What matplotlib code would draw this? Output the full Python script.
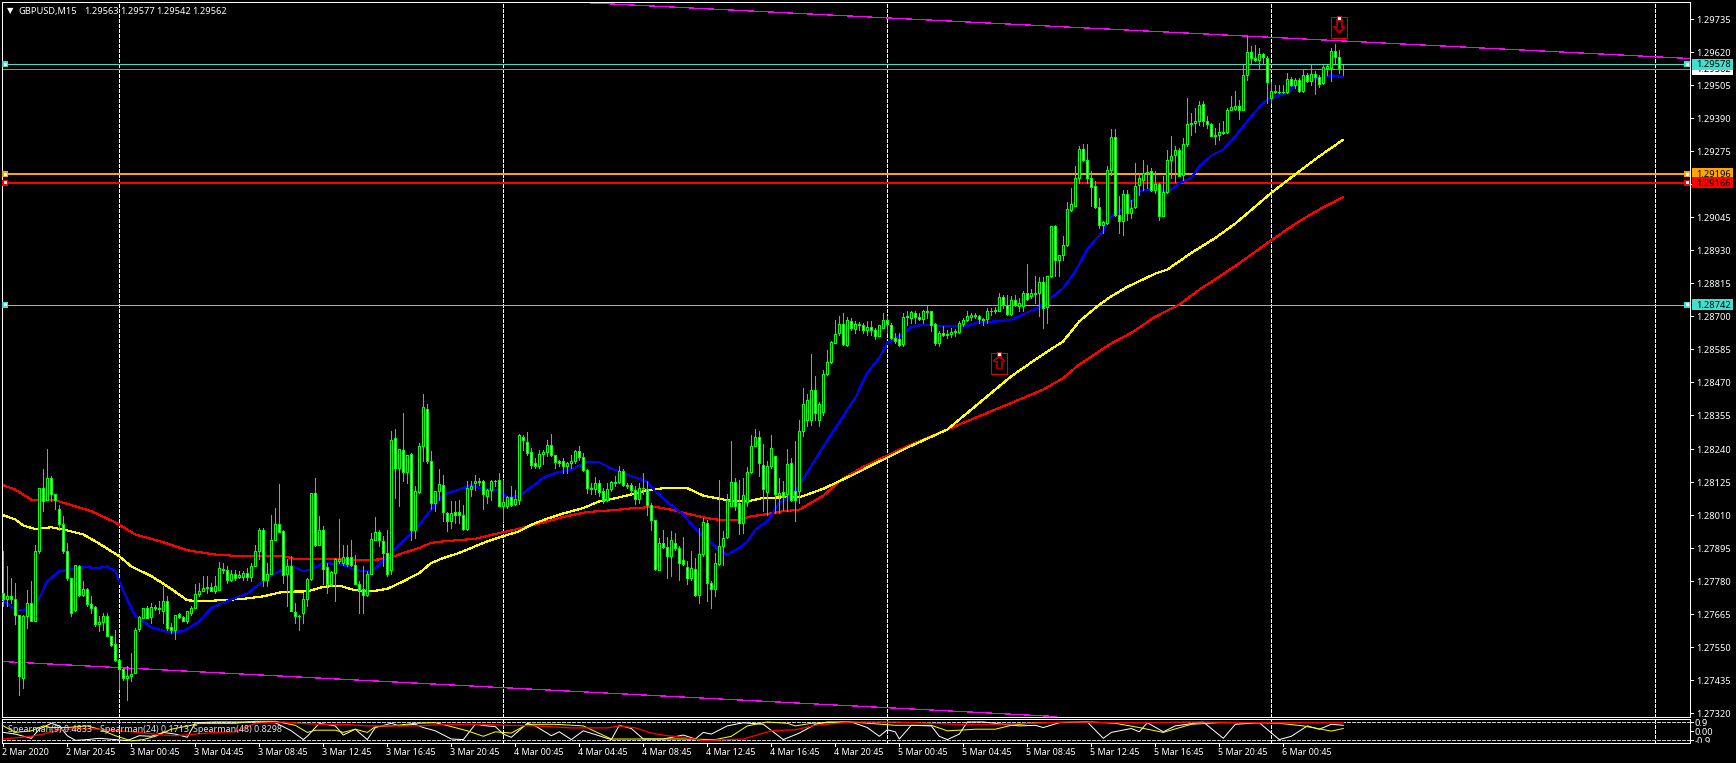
import matplotlib
matplotlib.use("Agg")
import matplotlib.pyplot as plt
from matplotlib.patches import Rectangle, Polygon
from matplotlib.transforms import Affine2D, Bbox

# ---- price data, in points above 1.27000 (1 point = 0.00001) ----
BASE = 1.27
POINT = 1e-5
opens = [740,717,728,719,664,444,661,703,641,885,
1105,1064,1140,1082,1032,981,885,792,680,835,
734,754,702,691,630,638,661,589,562,506,
476,444,450,462,615,653,688,655,691,688,
676,711,622,612,667,657,641,670,688,735,
747,757,761,747,751,823,820,785,805,794,
794,809,794,835,885,960,784,804,923,980,
955,804,835,674,661,670,720,788,1088,905,
959,830,769,809,851,844,863,865,838,772,
754,734,804,925,953,921,879,819,1279,1174,
1238,1159,1223,958,1090,1252,1380,1198,1053,1093,
1115,1018,991,1020,1020,1010,962,1101,1122,1127,
1129,1076,1097,1130,1134,1041,1041,1074,1050,1062,
1282,1265,1230,1192,1180,1222,1229,1254,1220,1199,
1199,1180,1192,1199,1233,1213,1166,1106,1101,1122,
1094,1063,1101,1126,1125,1164,1115,1115,1097,1067,
1105,1101,1046,992,820,914,900,867,914,897,
853,830,791,823,732,875,983,773,754,841,
902,933,1041,1126,1053,983,1056,1160,1250,1282,
1184,1090,1180,1215,1079,1090,1082,1192,1093,1093,
1302,1340,1340,1447,1340,1370,1501,1543,1610,1643,
1675,1601,1686,1659,1675,1672,1653,1665,1654,1632,
1662,1689,1673,1625,1621,1604,1698,1697,1713,1699,
1691,1716,1720,1674,1609,1644,1637,1639,1647,1646,
1676,1689,1698,1706,1703,1692,1692,1719,1720,1721,
1770,1741,1711,1759,1739,1739,1783,1771,1778,1783,
1821,1734,1841,2017,1896,1916,1949,2070,2084,2182,
2284,2245,2183,2153,2082,2018,2025,2211,2325,2053,
2032,2127,2061,2081,2157,2177,2200,2206,2140,2160,
2051,2133,2246,2262,2281,2193,2299,2369,2373,2380,
2439,2380,2371,2330,2331,2339,2342,2418,2423,2432,
2418,2541,2621,2601,2592,2614,2600,2460,2481,2483,
2481,2481,2527,2505,2524,2484,2541,2519,2543,2535,
2513,2564,2564,2625,2604,2563]
closes = [717,728,717,664,452,661,703,641,885,1105,
1058,1140,1082,1062,981,885,792,670,836,734,
754,700,687,630,639,661,589,557,506,476,
444,451,458,612,656,688,653,691,689,685,
713,618,610,664,656,641,676,689,737,747,
757,761,747,765,827,819,784,804,793,801,
809,794,835,885,958,784,807,925,980,952,
801,835,676,659,659,720,788,1088,905,959,
823,769,813,856,858,864,839,838,771,751,
734,807,928,953,922,879,804,1273,1174,1240,
1159,1221,958,1093,1252,1386,1198,1053,1093,1119,
1020,991,1016,1010,1010,962,1103,1113,1129,1129,
1082,1099,1130,1128,1043,1056,1074,1047,1067,1290,
1271,1227,1186,1180,1224,1230,1254,1218,1194,1192,
1180,1192,1199,1233,1213,1166,1104,1101,1122,1090,
1062,1101,1126,1123,1163,1115,1113,1097,1067,1105,
1103,1046,992,823,914,900,867,924,896,844,
839,791,827,732,875,985,773,754,844,902,
931,1062,1126,1041,983,1079,1160,1252,1282,1192,
1101,1180,1242,1082,1087,1074,1188,1064,1064,1302,
1395,1410,1447,1366,1395,1502,1543,1612,1640,1675,
1604,1687,1660,1676,1673,1653,1665,1653,1632,1672,
1689,1674,1625,1616,1601,1699,1701,1716,1699,1692,
1720,1720,1672,1608,1644,1637,1641,1647,1652,1679,
1689,1704,1706,1702,1692,1688,1720,1721,1725,1769,
1741,1709,1759,1741,1749,1783,1762,1781,1783,1820,
1731,1842,2017,1896,1915,1951,2073,2092,2183,2284,
2244,2182,2150,2081,2018,2030,2211,2325,2055,2032,
2127,2061,2078,2156,2183,2200,2205,2141,2160,2050,
2134,2246,2260,2281,2191,2301,2372,2375,2382,2437,
2380,2369,2328,2332,2343,2344,2419,2430,2434,2418,
2541,2621,2599,2593,2614,2603,2517,2486,2484,2481,
2483,2527,2505,2524,2484,2541,2521,2543,2535,2511,
2569,2572,2625,2604,2564,2562]
highs = [885,832,792,775,664,664,751,780,908,1105,
1169,1240,1145,1082,1047,1006,914,792,838,838,
780,757,728,693,659,670,670,589,612,508,
479,485,531,618,659,688,693,705,699,711,
763,728,636,664,670,659,676,693,769,775,
798,798,775,798,848,844,832,821,821,815,
815,827,844,908,966,966,844,1012,1035,1120,
960,856,867,705,664,740,792,1088,1140,1006,
972,844,815,861,997,908,908,925,873,780,
832,815,948,1003,960,937,960,1302,1311,1240,
1366,1221,1227,1111,1261,1430,1395,1232,1093,1169,
1151,1020,1058,1058,1064,1047,1128,1128,1151,1140,
1134,1101,1134,1134,1157,1134,1076,1111,1099,1293,
1290,1298,1244,1209,1236,1238,1273,1294,1221,1203,
1209,1194,1221,1238,1252,1227,1169,1122,1143,1134,
1105,1122,1128,1145,1182,1169,1122,1122,1111,1122,
1157,1128,1053,995,931,958,934,954,948,902,
934,850,885,861,966,1000,995,780,879,1134,
954,1082,1267,1139,1134,1139,1178,1290,1310,1302,
1256,1198,1290,1215,1139,1128,1240,1209,1269,1340,
1452,1430,1572,1493,1405,1516,1586,1615,1688,1702,
1713,1699,1696,1684,1681,1679,1684,1684,1661,1673,
1713,1702,1679,1644,1644,1713,1719,1719,1719,1713,
1725,1741,1720,1679,1650,1669,1653,1661,1658,1684,
1696,1719,1713,1713,1707,1696,1731,1731,1734,1783,
1777,1777,1771,1777,1766,1789,1885,1795,1843,1838,
1838,1843,2017,2020,1916,1980,2098,2148,2223,2293,
2302,2299,2206,2171,2113,2032,2223,2354,2354,2119,
2142,2142,2107,2235,2200,2244,2229,2218,2206,2165,
2189,2281,2330,2293,2287,2322,2461,2409,2426,2449,
2449,2397,2374,2357,2374,2380,2426,2467,2484,2455,
2577,2675,2643,2646,2635,2617,2606,2515,2505,2505,
2505,2546,2534,2531,2531,2557,2546,2577,2554,2542,
2574,2577,2635,2647,2629,2577]
lows = [693,693,705,630,386,409,618,641,641,879,
1024,1064,1058,1030,960,879,786,661,676,728,
728,693,670,624,606,612,589,554,502,404,
438,369,433,462,606,653,653,636,682,670,
636,612,601,578,653,641,636,664,688,728,
746,740,746,740,751,809,775,780,786,792,
786,786,780,832,856,763,763,804,923,952,
775,693,676,636,612,636,693,786,902,905,
769,740,763,711,844,838,832,832,769,670,
670,728,804,925,902,832,798,804,1070,1041,
1128,1122,925,931,1088,1198,1192,1030,1024,1064,
989,954,966,983,983,960,960,1076,1099,1116,
1030,1053,1064,1111,1041,991,1035,1043,1047,1050,
1238,1221,1174,1174,1174,1189,1215,1217,1174,1180,
1157,1157,1174,1192,1203,1163,1087,1082,1082,1076,
1053,1058,1093,1113,1122,1111,1105,1082,1050,1053,
1082,1009,960,821,819,896,790,798,890,786,
838,769,786,728,705,867,711,688,728,838,
838,931,1041,1029,943,948,1043,1157,1250,1145,
1024,1012,1174,1018,1018,1029,1024,1058,989,1053,
1285,1320,1325,1340,1320,1360,1499,1540,1609,1638,
1603,1600,1655,1644,1653,1644,1638,1638,1621,1632,
1661,1644,1621,1609,1597,1597,1673,1679,1679,1690,
1679,1696,1650,1603,1597,1632,1626,1630,1632,1644,
1667,1684,1690,1696,1679,1673,1679,1707,1713,1719,
1731,1707,1707,1737,1719,1719,1760,1766,1748,1702,
1661,1679,1838,1841,1843,1899,1945,2067,2084,2165,
2241,2165,2084,2078,2009,1992,2021,2194,2050,1992,
1986,2038,2044,2078,2125,2142,2148,2136,2131,2038,
2050,2131,2183,2168,2189,2177,2295,2333,2342,2368,
2365,2357,2328,2299,2316,2337,2339,2418,2420,2389,
2418,2522,2583,2588,2565,2583,2444,2444,2478,2478,
2478,2478,2502,2496,2481,2481,2516,2507,2476,2499,
2511,2542,2519,2583,2548,2542]

# moving averages, read at (bar index, points)
blue_bars = [0,3,5,8,11,14,20,24,26,28,30,33,37,41,45,49,52,57,61,66,69,72,75,77,80,85,88,92,96,100,104,107,110,114,117,120,124,
126,129,132,135,138,142,146,149,152,156,161,163,166,170,174,177,179,181,184,186,188,191,194,197,199,206,213,216,219,221,224,227,230,234,238,241,244,249,252,255,259,262,265,268,271,273,275,276,279,283,284,288,291,294,297,299,302,305,308,312,315,317,321,323,326,329,332,335]
blue_pts = [711,682,680,693,780,815,829,827,832,815,746,659,620,604,606,641,688,717,737,792,815,835,815,821,844,838,819,813,867,920,977,1030,1082,1099,1116,1101,1097,
1070,1078,1107,1140,1157,1169,1195,1194,1172,1151,1126,1093,1056,1012,948,914,885,873,896,917,960,989,1053,1076,1114,1270,1418,1505,1557,1609,1632,1664,1673,1669,1667,1669,1682,1684,1690,1708,1734,1766,1800,1858,1934,1968,1997,2038,2067,2113,2136,2148,2131,2165,2183,2223,2260,2281,2328,2397,2444,2461,2478,2504,2523,2527,2540,2533]
yellow_bars = [0,3,5,8,12,16,20,24,29,32,37,41,46,50,54,60,65,70,76,80,84,88,92,96,100,104,107,110,114,118,121,124,
129,132,136,140,145,149,153,157,161,165,171,175,179,183,186,190,195,199,205,212,218,226,236,245,252,255,258,265,269,274,277,281,288,291,297,303,308,317,324,329,335]
yellow_pts = [1010,995,974,962,968,957,943,911,867,832,798,763,714,711,714,719,728,744,745,761,765,749,745,754,780,809,844,861,879,902,919,933,
954,977,998,1016,1035,1058,1069,1082,1097,1104,1104,1078,1067,1058,1058,1070,1072,1072,1102,1148,1190,1245,1308,1412,1493,1522,1551,1615,1684,1742,1771,1804,1850,1864,1922,1974,2024,2131,2206,2258,2316]
red_bars = [0,3,7,13,17,22,28,33,40,46,53,60,70,73,80,90,96,100,104,107,110,118,124,
129,134,140,146,152,158,163,167,172,176,180,184,187,191,195,199,205,210,215,226,236,254,260,265,269,274,277,282,288,294,299,306,308,317,324,329,335]
red_pts = [1114,1099,1064,1062,1045,1024,985,943,916,888,873,867,867,858,858,853,858,879,896,914,919,928,948,
963,981,1004,1021,1027,1035,1039,1029,1012,1000,992,995,1006,1014,1024,1029,1078,1138,1178,1250,1308,1412,1447,1487,1534,1580,1607,1644,1700,1742,1794,1858,1876,1966,2032,2073,2116]

# trend lines: two read points each
top_trend_bars = [255.4, 421.7]
top_trend_pts = [2715, 2598]
bottom_trend_bars = [0, 124]
bottom_trend_pts = [501, 411]

# horizontal levels
level_prices = [1.29578, 1.29562, 1.29196, 1.29166, 1.28742]

# price axis
price_ticks = [1.29735,1.29620,1.29505,1.29390,1.29275,1.29160,1.29045,1.28930,1.28815,1.28700,1.28585,
               1.28470,1.28355,1.28240,1.28125,1.28010,1.27895,1.27780,1.27665,1.27550,1.27435,1.27320]
# time axis
time_tick_bars = list(range(0, 321, 16))
time_tick_labels = ["2 Mar 2020","2 Mar 20:45","3 Mar 00:45","3 Mar 04:45","3 Mar 08:45","3 Mar 12:45","3 Mar 16:45","3 Mar 20:45",
                    "4 Mar 00:45","4 Mar 04:45","4 Mar 08:45","4 Mar 12:45","4 Mar 16:45","4 Mar 20:45",
                    "5 Mar 00:45","5 Mar 04:45","5 Mar 08:45","5 Mar 12:45","5 Mar 16:45","5 Mar 20:45","6 Mar 00:45"]
midnight_bars = [29, 125, 221, 317, 413]

# Spearman oscillator
sp_white_bars = [0,3,7,9,12,14,16,18,21,24,28,31,34,37,40,43,46,48,53,58,63,68,72,75,76,79,83,85,88,91,93,97,99,103,105,108,112,115,118,121,123,125,127,131,133,137,139,142,145,152,154,157,160,165,170,173,175,177,181,185,190,195,199,203,206,212,216,219,221,223,224,227,232,234,236,239,241,245,250,254,258,260,264,271,275,277,282,284,286,290,293,300,305,308,314,319,322,326,329,332,335]
sp_white = [-.11,-.28,-.70,.21,.80,.54,-.44,-.90,-.83,-.70,-.83,-.93,-.44,-.50,-.11,-.28,-.60,.86,.93,.93,.93,.86,.05,-.83,-.50,.80,.54,-.375,.21,-.83,.375,.80,.54,.70,.375,.05,-.77,-.83,.70,.54,.47,-.28,-.60,.80,.54,-.44,-.05,-.83,.05,-.83,.60,.28,-.77,-.77,-.375,-.77,-.11,-.28,.54,.86,.70,-.83,-.18,.70,.93,.93,.375,-.50,.15,-.05,-.77,.60,.54,-.50,-.83,-.28,.93,.93,.70,.54,.60,.375,.86,.93,-.70,-.11,.28,-.05,.86,-.05,.54,.93,-.70,.70,.86,-.83,-.50,.54,.21,.70,.60]
sp_yellow_bars = [0,3,7,10,12,16,21,24,28,32,35,38,42,47,49,58,63,68,73,76,78,83,85,88,91,93,97,103,108,112,116,120,123,127,131,138,145,152,158,170,178,182,186,191,196,198,202,212,223,232,236,239,243,248,252,258,272,278,284,290,297,304,313,319,325,332,335]
sp_yellow = [.54,-.11,.05,.54,.375,.375,.54,.21,-.44,-.96,-.83,-.50,.21,.60,.80,.80,1.0,1.0,.60,-.11,.11,.11,-.11,.21,-.11,.47,.54,.80,.86,.47,.05,-.50,-.05,-.18,.70,.70,.54,-.77,-.77,-.77,-.83,-.50,.54,.93,.80,.54,.80,.93,.60,.60,.05,.11,.21,.21,.60,.86,.93,.80,.375,-.11,.70,.86,.86,.80,.54,.02,.28]
sp_red_bars = [0,7,10,14,19,24,29,34,40,43,48,53,58,63,70,74,79,85,91,97,103,112,120,126,133,142,151,154,158,162,166,170,175,185,192,198,203,212,223,238,249,266,283,299,316,335]
sp_red = [-.77,-.50,-.28,.15,.28,.21,.05,-.11,-.375,-.44,-.28,-.11,-.05,.80,.93,.80,.70,.70,.54,.54,.54,.70,.70,.60,.54,.34,.34,.54,.34,-.18,-.44,-.60,-.93,-.77,.05,.15,.60,.93,.93,.70,.70,.93,.86,.93,.86,.86]
sp_levels = [0.9, -0.9]
sp_labels = ["Spearman(9) 0.4833", "Spearman(24) 0.1713", "Spearman(48) 0.8298"]
header_parts = ["GBPUSD,M15", "1.29563", "1.29577", "1.29542", "1.29562"]


def prc(v):
    return [BASE + x * POINT for x in v]

W, H = 1736, 763
PX = 0.72
FONT = "Noto Sans"
FS = 6.45
FS_PRICE = 6.7
TXT = "#ffffff"

fig = plt.figure(figsize=(W / 100, H / 100), dpi=100, facecolor="black")
ax = fig.add_axes([2.0 / W, 1 - 716.5 / H, 1688 / W, 714.5 / H], facecolor="black")
sub = fig.add_axes([2.0 / W, 1 - 743 / H, 1688 / W, 24 / H], facecolor="black")
for a in (ax, sub):
    a.set_xlim((2.0 - 3.3) / 4, (1690.0 - 3.3) / 4)
    for s in a.spines.values():
        s.set_color("white")
        s.set_linewidth(PX)
    a.set_xticks([])
    a.set_yticks([])
ax.set_ylim(BASE + 310 * POINT, BASE + 2794.5 * POINT)
sub.set_ylim(-1.17, 1.23)

DASH = (0, (4, 2))
LINE = dict(antialiased=False, solid_capstyle="butt")
for a in (ax, sub):
    for b in midnight_bars:
        a.axvline(b, color="white", lw=PX, ls=DASH, zorder=1, antialiased=False)

# levels
ax.axhline(level_prices[1], color="#8c8c8c", lw=PX, zorder=2, **LINE)
ax.axhline(level_prices[0], color="#40E0D0", lw=PX, zorder=2, **LINE)
ax.axhline(level_prices[4], color="#40E0D0", lw=PX, zorder=2, **LINE)
ax.axhline(level_prices[2], color="#FFA500", lw=2 * PX, zorder=2, **LINE)
ax.axhline(level_prices[3], color="#FF0000", lw=2 * PX, zorder=2, **LINE)

# trend lines
for tb, tp in ((top_trend_bars, top_trend_pts), (bottom_trend_bars, bottom_trend_pts)):
    ax.axline((tb[0], BASE + tp[0] * POINT), (tb[1], BASE + tp[1] * POINT), color="#FF00FF", lw=0.25 * PX, zorder=2, antialiased=False)

# moving averages
ax.plot(red_bars, prc(red_pts), color="#FF0000", lw=1.1 * PX, zorder=3, **LINE)
ax.plot(yellow_bars, prc(yellow_pts), color="#FFFF00", lw=1.1 * PX, zorder=3, **LINE)
ax.plot(blue_bars, prc(blue_pts), color="#0000FF", lw=1.1 * PX, zorder=3, **LINE)

# candles
bars = list(range(len(opens)))
ax.vlines(bars, prc(lows), prc(highs), color="#00FF00", lw=PX, zorder=4, antialiased=False)
for i in bars:
    up = closes[i] >= opens[i]
    lo = BASE + min(opens[i], closes[i]) * POINT
    hi = BASE + max(opens[i], closes[i]) * POINT
    ax.add_patch(Rectangle((i - 0.25, lo), 0.5, hi - lo, facecolor="black" if up else "white",
                           edgecolor="#00FF00", lw=PX, zorder=5, antialiased=False))

# oscillator
for lv in sp_levels:
    sub.axhline(lv, color="#c8c8c8", lw=PX, ls=DASH, zorder=1, antialiased=False)
sub.plot(sp_white_bars, sp_white, color="white", lw=PX, zorder=3, antialiased=True)
sub.plot(sp_yellow_bars, sp_yellow, color="#FFFF00", lw=PX, zorder=4, antialiased=True)
sub.plot(sp_red_bars, sp_red, color="#FF0000", lw=PX * 1.3, zorder=5, antialiased=True)

# ---- pixel-placed furniture ----
pix = Affine2D().scale(1, -1).translate(0, H)


def bar_x(i):
    return ax.transData.transform((i, BASE))[0]


def price_y(p):
    return H - ax.transData.transform((0, p))[1]


def ptext(x, y, s, **kw):
    opts = dict(family=FONT, fontsize=FS, color=TXT, va="center", ha="left", transform=pix, zorder=20)
    opts.update(kw)
    return fig.text(x, y, s, **opts)


def prect(x0, y0, x1, y1, **kw):
    opts = dict(transform=pix, antialiased=False, lw=0)
    opts.update(kw)
    p = Rectangle((x0, y0), x1 - x0, y1 - y0, **opts)
    fig.add_artist(p)
    return p


# price ticks
for p in price_ticks:
    y = price_y(p)
    prect(1691, y - 0.5, 1694, y + 0.5, facecolor="white", zorder=10)
    ptext(1696, y + 1, f"{p:.5f}", zorder=11, fontsize=FS_PRICE)

# level labels, each stacked above the one before it
for n, (p, bg) in enumerate(((1.29562, "white"), (1.29578, "#40E0D0"), (1.29196, "#FFA500"), (1.29166, "#FF0000"), (1.28742, "#40E0D0"))):
    y = price_y(p)
    prect(1692, y - 5.7, 1733, y + 5.7, facecolor=bg, zorder=12 + n * 0.2)
    ptext(1696, y + 0.7, f"{p:.5f}", color="black", zorder=12.1 + n * 0.2, fontsize=FS_PRICE)

# level handles
for p, c in ((1.29578, "#40E0D0"), (1.29196, "#FFA500"), (1.29166, "#FF0000"), (1.28742, "#40E0D0")):
    y = price_y(p)
    for x in (5.3, 1687.3):
        prect(x - 3, y - 3, x + 3, y + 3, facecolor=c, zorder=15)
        prect(x - 1.5, y - 1.5, x + 1.5, y + 1.5, facecolor="white", zorder=16)

# time ticks
for b, lab in zip(time_tick_bars, time_tick_labels):
    x = bar_x(b)
    prect(x - 0.5, 743, x + 0.5, 746.5, facecolor="white", zorder=10)
    ptext(x - 1, 752.2, lab)

# oscillator scale
clip = Bbox.from_extents(1690, H - 742.5, 1736, H - 716)
for y, s in ((722.7, "0.9"), (731.5, "0.00"), (740.5, "-0.9")):
    prect(1691, y - 0.5, 1694, y + 0.5, facecolor="white", zorder=10)
    t = ptext(1694.5, y + 1, s, zorder=11, fontsize=FS_PRICE)
    t.set_clip_box(clip)
    t.set_clip_on(True)

# oscillator captions
for x, s in zip((7.5, 100, 193), sp_labels):
    ptext(x, 729.3, s, color="#e0e0e0")

# header
ptext(6.5, 10.8, "\u25bc", family="DejaVu Sans", fontsize=6, color="white")
for x, s in zip((18, 84, 120, 156.5, 192.5), header_parts):
    ptext(x, 11.2, s, fontsize=FS_PRICE)


# arrow objects
def arrow_box(x0, y0, x1, y1, pts, hx, hy):
    prect(x0, y0, x1, y1, facecolor="none", edgecolor="#e00000", lw=PX, zorder=15)
    fig.add_artist(Polygon(pts, closed=True, transform=pix, facecolor="none", edgecolor="#a00000", lw=0.5 * PX,
                           zorder=15, antialiased=False))
    prect(hx - 2.5, hy - 2.5, hx + 2.5, hy + 2.5, facecolor="#e00000", zorder=16)
    prect(hx - 1.5, hy - 1.5, hx + 1.5, hy + 1.5, facecolor="white", zorder=17)


cx, t = 1339.3, 20
arrow_box(1331.2, 17.3, 1347, 38,
          [(cx - 2.5, t), (cx + 2.5, t), (cx + 2.5, t + 7), (cx + 5.5, t + 7), (cx, t + 12.5), (cx - 5.5, t + 7), (cx - 2.5, t + 7)],
          1339.3, 18.6)
cx, b = 999.3, 368.5
arrow_box(991, 353.3, 1007.2, 374.2,
          [(cx - 2.5, b), (cx + 2.5, b), (cx + 2.5, b - 7), (cx + 5.5, b - 7), (cx, b - 12.5), (cx - 5.5, b - 7), (cx - 2.5, b - 7)],
          999.3, 354.5)

fig.savefig("out.png", dpi=100, facecolor="black")
